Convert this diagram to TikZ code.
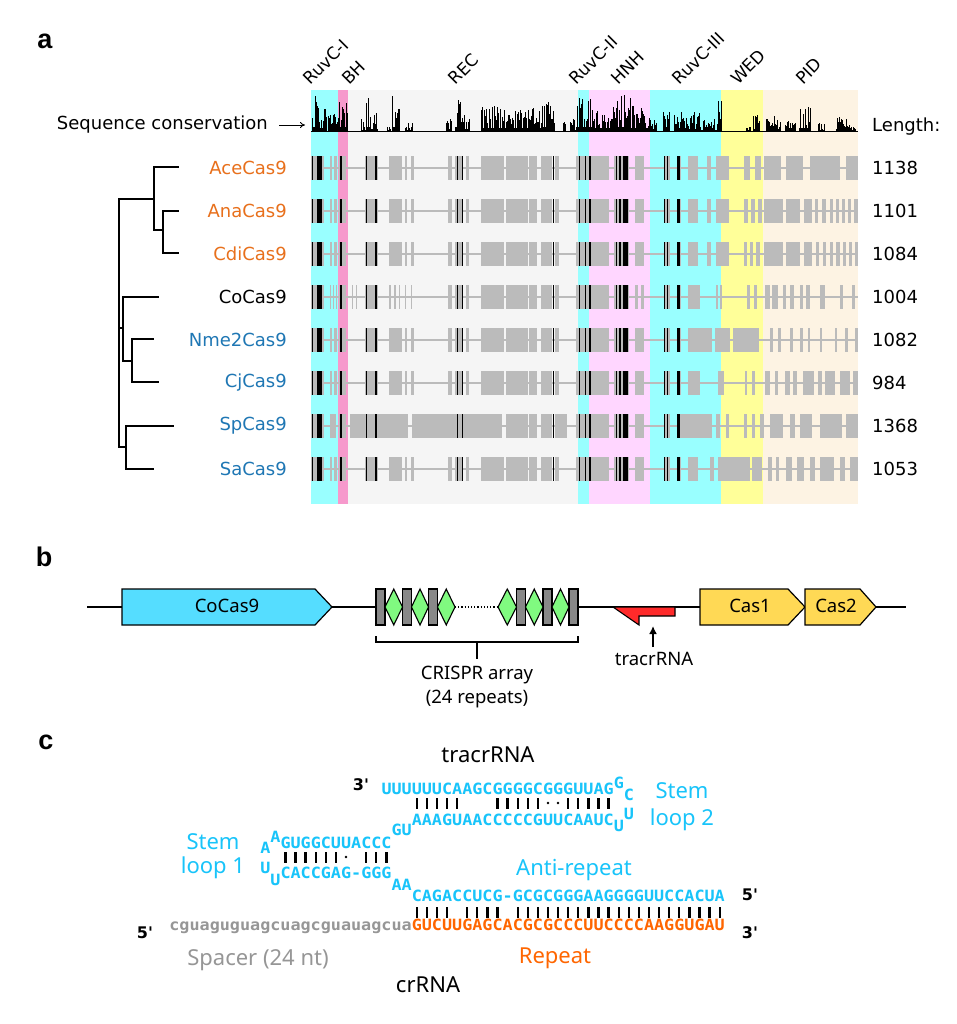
\documentclass[tikz,border=0pt]{standalone}
\usepackage{fontspec}
\setmainfont{Noto Sans}
\newfontfamily\dvs{DejaVu Sans}
\newfontfamily\monof[FakeStretch=1.082]{DejaVu Sans Mono}
\newfontfamily\labf{Liberation Sans}
\newfontfamily\primef[Ligatures=TeXOff]{DejaVu Sans}
\usetikzlibrary{arrows.meta}
\definecolor{bandcyan}{RGB}{153,255,255}
\definecolor{bandbh}{RGB}{246,153,204}
\definecolor{bandrec}{RGB}{245,245,245}
\definecolor{bandhnh}{RGB}{255,214,255}
\definecolor{bandwed}{RGB}{255,255,153}
\definecolor{bandpid}{RGB}{253,243,227}
\definecolor{rowgray}{RGB}{187,187,187}
\definecolor{taxorange}{RGB}{232,112,28}
\definecolor{taxblue}{RGB}{31,119,180}
\definecolor{rnacyan}{RGB}{24,196,250}
\definecolor{reporange}{RGB}{255,102,0}
\definecolor{spgray}{RGB}{150,150,150}
\definecolor{cas9fill}{RGB}{85,221,255}
\definecolor{casyellow}{RGB}{255,217,85}
\definecolor{tracrred}{RGB}{255,42,42}
\definecolor{spacergreen}{RGB}{128,250,128}
\definecolor{repgray}{RGB}{136,136,136}
\def\headC{311/324,330/332,334/337,339/346,365/378,389/402,405/407,411/414,448/452,455/463,466/469,481/504,506/528,529/537,541/552,555/559,576/609,614/629,635/644,664/670,677/681}
\edef\rowA{\headC,688/698,707/711,716/729,744/750,755/761,764/781,786/803,810/840,846/858}
\edef\rowB{\headC,688/698,707/711,716/729,744/748,751/755,758/762,764/783,786/800,804/812,815/818,822/826,830/833,836/839,842/845,848/851,854/858}
\edef\rowC{\headC,688/698,707/711,716/729,744/747,750/753,756/760,764/783,786/800,804/812,816/819,823/826,830/833,836/840,843/846,849/852,855/858}
\edef\rowD{311/324,330/331,333/334,336/337,339/346,352/353,356/357,365/378,389/391,394/396,399/400,405/406,411/412,448/452,455/463,466/469,481/504,506/528,529/537,541/552,555/559,576/609,614/629,635/638,641/644,664/670,677/681,688/700,716/718,720/722,747/750,754/757,765/770,772/778,783/786,790/794,800/803,806/810,820/825,840/843,852/855}
\edef\rowE{\headC,688/712,715/730,733/759,770/773,778/781,790/793,800/803,808/810,820/822,835/837,845/848,855/858}
\edef\rowF{\headC,688/700,718/724,745/747,752/755,765/770,775/778,785/790,793/797,803/814,818/822,825/835,840/850,853/858}
\edef\rowG{311/324,330/336,339/346,350/408,412/502,506/528,529/537,541/552,555/567,576/609,614/629,635/644,664/670,677/712,716/720,726/729,744/747,752/755,760/764,770/783,790/795,800/812,820/842,846/858}
\edef\rowH{\headC,688/698,710/714,718/750,752/762,768/772,776/779,786/792,797/804,810/815,820/834,840/845,850/858}
\def\xo{411.6}
\def\cw{10.1}
\begin{document}
\begin{tikzpicture}[x=1pt,y=-1pt,
  atext/.style={font=\dvs\fontsize{18}{21}\selectfont, inner sep=0pt},
  dlabel/.style={font=\dvs\fontsize{17}{20}\selectfont, inner sep=0pt, rotate=45, anchor=south west},
  btext/.style={font=\fontsize{18.5}{22}\selectfont, inner sep=0pt},
  ctext/.style={font=\fontsize{22}{26}\selectfont, inner sep=0pt},
  seqf/.style={font=\monof\bfseries\fontsize{15.5}{18}\selectfont, inner sep=0pt, anchor=base west},
  primelab/.style={font=\primef\bfseries\fontsize{16}{19}\selectfont, inner sep=0pt},
  panel/.style={font=\labf\bfseries\fontsize{27}{30}\selectfont, inner sep=0pt},
  genebox/.style={draw=black, line width=1.2pt},
  treeline/.style={line width=1.8pt, line cap=rect},
  gline/.style={line width=1.2pt}
]
\useasboundingbox (0,0) rectangle (957,1024);
\fill[white] (0,0) rectangle (957,1024);

% ---------- panel labels
\node[panel] (la) at (45,41) {a};
\node[panel] (lb) at (44,557) {b};
\node[panel] (lc) at (46,742) {c};

% ---------- panel a: domain bands
\fill[bandcyan] (311,90) rectangle (338,504);
\fill[bandbh] (338,90) rectangle (348,504);
\fill[bandrec] (348,90) rectangle (577.5,504);
\fill[bandcyan] (577.5,90) rectangle (589,504);
\fill[bandhnh] (589,90) rectangle (650,504);
\fill[bandcyan] (650,90) rectangle (721,504);
\fill[bandwed] (721,90) rectangle (763,504);
\fill[bandpid] (763,90) rectangle (858,504);

% domain labels
\node[dlabel] (dRI) at (311,86) {RuvC-I};
\node[dlabel] (dBH) at (349,86) {BH};
\node[dlabel] (dREC) at (456,86) {REC};
\node[dlabel] (dRII) at (577,86) {RuvC-II};
\node[dlabel] (dHNH) at (618,86) {HNH};
\node[dlabel] (dRIII) at (680,86) {RuvC-III};
\node[dlabel] (dWED) at (738,86) {WED};
\node[dlabel] (dPID) at (803,86) {PID};

% conservation histogram
\pgfmathsetseed{7}
\foreach \a/\b/\m in {312/318/36,319/326/26,328/336/18,337/347/30,361/365/12,366/370/33,371/377/20,387/390/8,392/399/36,405/412/9,446/451/15,455/462/35,463/469/16,481/502/25,503/520/22,521/540/24,541/554/30,563/565/9,570/576/12,577/591/34,592/610/24,611/630/36,631/647/28,648/656/18,663/669/34,674/686/24,687/699/20,700/717/12,718/721/33,746/750/8,753/759/16,766/780/15,785/795/10,799/810/24,818/824/8,836/846/14,847/855/6}{
  \foreach \x in {\a,...,\b}{
    \pgfmathsetmacro\rr{rnd}
    \pgfmathsetmacro\h{\rr<0.18 ? \m*0.12 : \m*(0.25+0.75*rnd)}
    \fill (\x,131) rectangle (\x+1.1,131-\h);
  }
}
\draw[line width=1.3pt] (311,131.5) -- (858,131.5);

\node[atext, anchor=east] (seqcons) at (268,125) {Sequence conservation};
\coordinate (arrS) at (279,125);
\coordinate (arrE) at (305,125);
\draw[line width=0.9pt, -{To[length=5pt,width=6pt]}] (arrS) -- (arrE);
\node[atext, anchor=west] (lenlab) at (872,127) {Length:};

% alignment rows
\foreach \c/\lst/\len in {168/\rowA/1138, 211/\rowB/1101, 254/\rowC/1084, 297/\rowD/1004, 340/\rowE/1082, 383/\rowF/984, 426/\rowG/1368, 469/\rowH/1053}{
  \draw[rowgray, line width=2.5pt] (311,\c) -- (858,\c);
  \edef\blist{\lst}
  \foreach \a/\b in \blist { \fill[rowgray] (\a,\c-12) rectangle (\b,\c+12); }
  \foreach \a/\b in {312/313.3,316.6/322,340/341.5,365.5/367,375/376.5,456.5/458,461.5/463,552.5/554,578.5/580,584.5/586,588.5/590.5,615.5/617,619/620.5,622.5/628,663.5/665,666.5/668,677/679.5}{
    \fill[black] (\a,\c-12) rectangle (\b,\c+12);
  }
  \node[atext, anchor=west] at (872,\c) {\len};
}

% species labels
\node[atext, anchor=east, text=taxorange] (sAce) at (287,168) {AceCas9};
\node[atext, anchor=east, text=taxorange] (sAna) at (287,211) {AnaCas9};
\node[atext, anchor=east, text=taxorange] (sCdi) at (287,254) {CdiCas9};
\node[atext, anchor=east, text=black] (sCo) at (287,297) {CoCas9};
\node[atext, anchor=east, text=taxblue] (sNme) at (287,340) {Nme2Cas9};
\node[atext, anchor=east, text=taxblue] (sCj) at (287,383) {CjCas9};
\node[atext, anchor=east, text=taxblue] (sSp) at (287,426) {SpCas9};
\node[atext, anchor=east, text=taxblue] (sSa) at (287,469) {SaCas9};

% tree
\draw[treeline] (119,199) -- (119,447);
\draw[treeline] (119,199) -- (154,199);
\draw[treeline] (154,167) -- (154,230);
\draw[treeline] (154,167) -- (178,167);
\draw[treeline] (154,230) -- (163,230);
\draw[treeline] (163,211) -- (163,253);
\draw[treeline] (163,211) -- (178,211);
\draw[treeline] (163,253) -- (178,253);
\draw[treeline] (119,328) -- (123,328);
\draw[treeline] (123,297) -- (123,361);
\draw[treeline] (123,297) -- (158,297);
\draw[treeline] (123,361) -- (132,361);
\draw[treeline] (132,339) -- (132,382);
\draw[treeline] (132,339) -- (153,339);
\draw[treeline] (132,382) -- (158,382);
\draw[treeline] (119,447) -- (126,447);
\draw[treeline] (126,426) -- (126,469);
\draw[treeline] (126,426) -- (173,426);
\draw[treeline] (126,469) -- (153,469);

% ---------- panel b
\coordinate (lstart) at (87,607);
\coordinate (arrL) at (376,607);
\coordinate (arrR) at (578,607);
\coordinate (lend) at (906,607);
\draw[gline] (lstart) -- (arrL);
\draw[gline] (arrR) -- (lend);
\draw[line width=1.2pt, dotted] (455,607) -- (498,607);

\draw[genebox, fill=cas9fill] (122,589) -- (315,589) -- (332,607) -- (315,625) -- (122,625) -- cycle;
\node[btext] (gCas9) at (227,606) {CoCas9};
\draw[genebox, fill=casyellow] (700,589) -- (788,589) -- (805,607) -- (788,625) -- (700,625) -- cycle;
\node[btext] (gCas1) at (750,606) {Cas1};
\draw[genebox, fill=casyellow] (805,589) -- (860,589) -- (876,607) -- (860,625) -- (805,625) -- cycle;
\node[btext] (gCas2) at (836,606) {Cas2};

% CRISPR array
\foreach \r in {376,402.5,428.5,516.5,543,569}{
  \draw[line width=1.1pt, fill=repgray] (\r,589) rectangle (\r+9,625);
}
\foreach \d/\e in {385/402.5,411.5/428.5,437.5/455,498/516.5,525.5/543,552/569}{
  \draw[line width=1.1pt, fill=spacergreen] (\d,607) -- ({(\d+\e)/2},589) -- (\e,607) -- ({(\d+\e)/2},625) -- cycle;
}
\draw[line width=1.3pt] (376,636) -- (376,642) -- (578,642) -- (578,636);
\coordinate (brk) at (477,642);
\node[btext] (arrtxt) at (477,675) {CRISPR array};
\node[btext] (arrtxt2) at (477,699) {(24 repeats)};
\draw[line width=1.3pt] (brk) -- (477,659);

% tracrRNA locus
\draw[line width=1.1pt, fill=tracrred] (613,607) -- (675,607) -- (675,616) -- (639,616) -- (639,625) -- cycle;
\node[btext] (tracrB) at (654,659) {tracrRNA};
\coordinate (tracrTip) at (653,626);
\draw[line width=2.2pt, -{Latex[length=8pt,width=8pt]}] (653,647) -- (tracrTip);

% ---------- panel c
\node[ctext] (tracrC) at (488,755) {tracrRNA};
\node[primelab] (p3a) at (361,785) {3'};
\node[seqf, text=rnacyan] (top2) at (\xo-3*\cw,794.8) {UUUUUUCAAGCGGGGCGGGUUAG};
\node[seqf, text=rnacyan] (loopG) at (\xo+20*\cw,788.8) {G};
\node[seqf, text=rnacyan] (loopC) at (\xo+21*\cw,800.8) {C};
\node[seqf, text=rnacyan] (bot2) at (\xo,825.8) {AAAGUAACCCCCGUUCAAUC};
\node[seqf, text=rnacyan] (loopU1) at (\xo+20*\cw,831.8) {U};
\node[seqf, text=rnacyan] (loopU2) at (\xo+21*\cw,819.8) {U};
\node[seqf, text=rnacyan] (gu) at (\xo-2*\cw,835.8) {GU};
\node[ctext, text=rnacyan] (stem2) at (682,791) {Stem};
\node[ctext, text=rnacyan] (loop2) at (682,820) {loop 2};

\node[seqf, text=rnacyan] (top1) at (\xo-13*\cw,848.8) {GUGGCUUACCC};
\node[seqf, text=rnacyan] (loopA2) at (\xo-14*\cw,842.8) {A};
\node[seqf, text=rnacyan] (loopA1) at (\xo-15*\cw,853.8) {A};
\node[seqf, text=rnacyan] (bot1) at (\xo-13*\cw,878.8) {CACCGAG-GGG};
\node[seqf, text=rnacyan] (loopU3) at (\xo-15*\cw,873.8) {U};
\node[seqf, text=rnacyan] (loopU4) at (\xo-14*\cw,885.8) {U};
\node[seqf, text=rnacyan] (aa) at (\xo-2*\cw,890.8) {AA};
\node[ctext, text=rnacyan] (stem1) at (213,842) {Stem};
\node[ctext, text=rnacyan] (loop1) at (213,868) {loop 1};

\node[ctext, text=rnacyan] (antirep) at (574,870) {Anti-repeat};
\node[seqf, text=rnacyan] (anti) at (\xo,901.8) {CAGACCUCG-GCGCGGGAAGGGGUUCCACUA};
\node[primelab] (p5a) at (750,895) {5'};
\node[seqf, text=spgray] (spacer) at (\xo-24*\cw,930.8) {cguaguguagcuagcguauagcua};
\node[seqf, text=reporange] (repeat) at (\xo,930.8) {GUCUUGAGCACGCGCCCUUCCCCAAGGUGAU};
\node[primelab] (p5b) at (145,933) {5'};
\node[primelab] (p3b) at (750,933) {3'};
\node[ctext, text=spgray] (spacerlab) at (258,960) {Spacer (24 nt)};
\node[ctext, text=reporange] (repeatlab) at (555,958) {Repeat};
\node[ctext] (crrna) at (428,985) {crRNA};

% base-pair bars
\foreach \i in {0,1,2,3,4,8,9,10,11,12,15,16,17,18,19}{
  \fill (\xo+\i*\cw+0.5*\cw-1.15,797.5) rectangle ++(2.3,11);
}
\foreach \i in {13,14}{ \fill (\xo+\i*\cw+0.5*\cw,803) circle (1.4); }
\foreach \i in {-13,-12,-11,-10,-9,-8,-5,-4,-3}{
  \fill (\xo+\i*\cw+0.5*\cw-1.15,851.5) rectangle ++(2.3,11);
}
\fill (\xo-7*\cw+0.5*\cw,857) circle (1.4);
\foreach \i in {0,1,2,3,5,6,7,8,10,11,12,13,14,15,16,17,18,19,20,21,22,23,24,25,26,27,28,29,30}{
  \fill (\xo+\i*\cw+0.5*\cw-1.15,906.5) rectangle ++(2.3,11);
}
\end{tikzpicture}
\end{document}
